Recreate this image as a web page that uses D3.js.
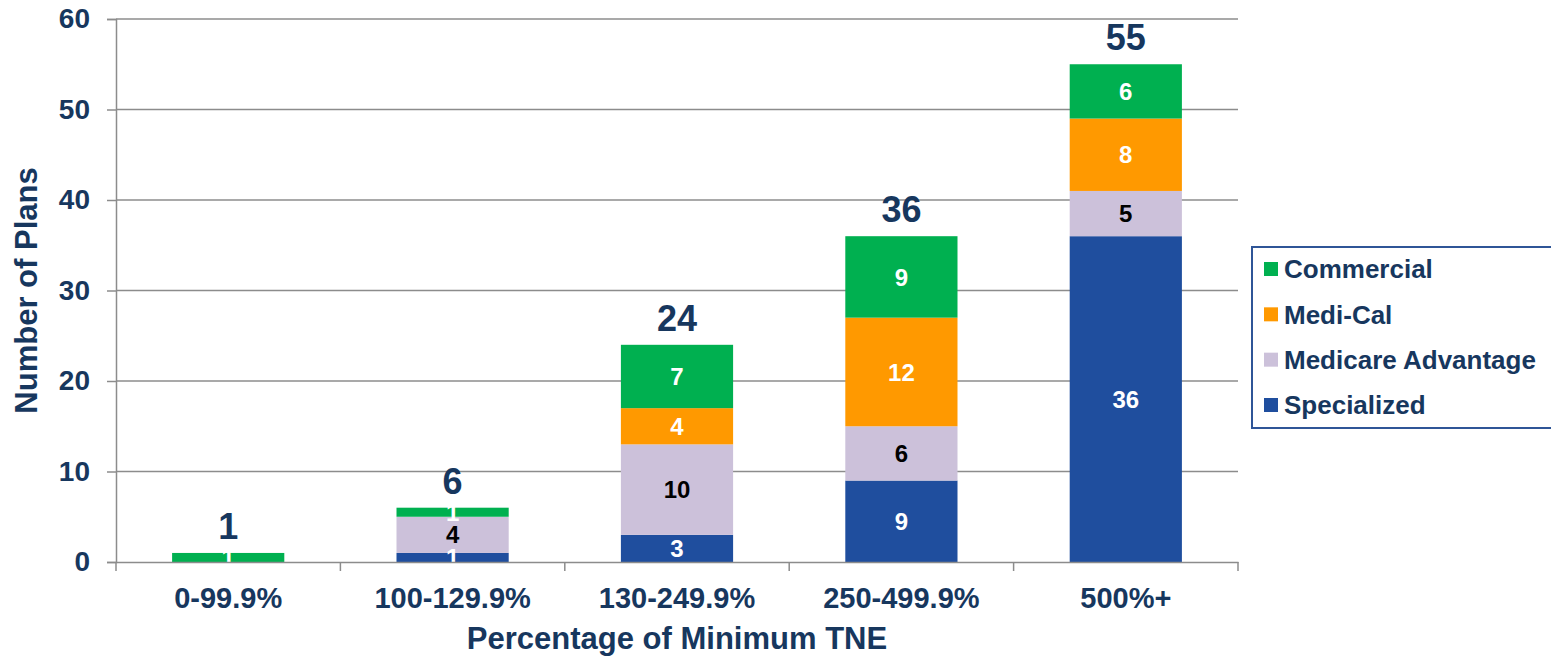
<!DOCTYPE html>
<html>
<head>
<meta charset="utf-8">
<script src="https://cdn.jsdelivr.net/npm/d3@7"></script>
<style>
  body { margin: 0; background: #fff; }
  text { font-family: "Liberation Sans", Arial, sans-serif; font-weight: bold; }
</style>
</head>
<body>
<svg id="chart" width="1551" height="657"></svg>
<script>
// data
const categories = ['0-99.9%', '100-129.9%', '130-249.9%', '250-499.9%', '500%+'];
const seriesNames = ['Specialized', 'Medicare Advantage', 'Medi-Cal', 'Commercial'];
const specialized = [0, 1, 3, 9, 36];
const medicareAdvantage = [0, 4, 10, 6, 5];
const mediCal = [0, 0, 4, 12, 8];
const commercial = [1, 1, 7, 9, 6];
const yTicks = [0, 10, 20, 30, 40, 50, 60];

const colors = {
  'Specialized': '#1F4E9E',
  'Medicare Advantage': '#CCC1DA',
  'Medi-Cal': '#FF9900',
  'Commercial': '#00B050'
};
const labelColors = {
  'Specialized': '#fff',
  'Medicare Advantage': '#000',
  'Medi-Cal': '#fff',
  'Commercial': '#fff'
};
const navy = '#17375E';
const font = '"Liberation Sans", Arial, sans-serif';

const rows = categories.map((c, i) => ({
  cat: c,
  'Specialized': specialized[i],
  'Medicare Advantage': medicareAdvantage[i],
  'Medi-Cal': mediCal[i],
  'Commercial': commercial[i]
}));

const margin = {left: 116, right: 313, top: 19, bottom: 95};
const W = 1551, H = 657;
const svg = d3.select('#chart');

const x = d3.scaleBand().domain(categories)
  .range([margin.left, W - margin.right]).paddingInner(0.5).paddingOuter(0.25);
const y = d3.scaleLinear().domain([0, 60]).range([H - margin.bottom, margin.top]);

// gridlines
svg.append('g').selectAll('line').data(yTicks.filter(d => d > 0)).join('line')
  .attr('x1', margin.left).attr('x2', W - margin.right)
  .attr('y1', d => y(d)).attr('y2', d => y(d))
  .attr('stroke', '#8c8c8c').attr('stroke-width', 1.5);

// stacked bars
const stack = d3.stack().keys(seriesNames)(rows);
const layers = svg.append('g').selectAll('g').data(stack).join('g')
  .attr('fill', d => colors[d.key]);
layers.selectAll('rect').data(d => d).join('rect')
  .attr('x', d => x(d.data.cat))
  .attr('width', x.bandwidth())
  .attr('y', d => y(d[1]))
  .attr('height', d => y(d[0]) - y(d[1]));

// segment labels (tiny segments keep their white label, as in the original)
stack.forEach(layer => {
  svg.append('g').selectAll('text').data(layer.filter(d => d[1] - d[0] > 0)).join('text')
    .attr('x', d => x(d.data.cat) + x.bandwidth() / 2)
    .attr('y', d => y((d[0] + d[1]) / 2))
    .attr('dy', '0.36em')
    .attr('text-anchor', 'middle')
    .attr('font-size', 24)
    .attr('fill', labelColors[layer.key])
    .text(d => d[1] - d[0]);
});

// totals
svg.append('g').selectAll('text').data(rows).join('text')
  .attr('x', d => x(d.cat) + x.bandwidth() / 2)
  .attr('y', d => y(d3.sum(seriesNames, k => d[k])) - 14)
  .attr('text-anchor', 'middle')
  .attr('font-size', 36)
  .attr('fill', navy)
  .text(d => d3.sum(seriesNames, k => d[k]));

// y axis
const yAxis = svg.append('g')
  .attr('transform', `translate(${margin.left},0)`)
  .call(d3.axisLeft(y).tickValues(yTicks).tickSize(9).tickPadding(17));
yAxis.select('.domain').attr('stroke', '#8c8c8c').attr('stroke-width', 1.5);
yAxis.selectAll('.tick line').attr('stroke', '#8c8c8c').attr('stroke-width', 1.5);
yAxis.selectAll('.tick text').attr('font-size', 28).attr('fill', navy)
  .style('font-family', font).style('font-weight', 'bold');

// x axis
const xAxis = svg.append('g')
  .attr('transform', `translate(0,${y(0)})`)
  .call(d3.axisBottom(x).tickSize(0).tickPadding(25));
xAxis.select('.domain').attr('stroke', '#8c8c8c').attr('stroke-width', 1.5);
xAxis.selectAll('.tick text').attr('font-size', 29).attr('fill', navy)
  .style('font-family', font).style('font-weight', 'bold');
// category boundary ticks
const bounds = d3.range(categories.length + 1).map(i => margin.left + i * (W - margin.right - margin.left) / categories.length);
svg.append('g').selectAll('line').data(bounds).join('line')
  .attr('x1', d => d).attr('x2', d => d)
  .attr('y1', y(0)).attr('y2', y(0) + 9)
  .attr('stroke', '#8c8c8c').attr('stroke-width', 1.5);

// axis titles
svg.append('text')
  .attr('transform', `translate(37,${(y(0) + y(60)) / 2}) rotate(-90)`)
  .attr('text-anchor', 'middle')
  .attr('font-size', 31).attr('fill', navy)
  .text('Number of Plans');
svg.append('text')
  .attr('x', (margin.left + W - margin.right) / 2)
  .attr('y', 649)
  .attr('text-anchor', 'middle')
  .attr('font-size', 31).attr('fill', navy)
  .text('Percentage of Minimum TNE');

// legend
const legend = svg.append('g');
legend.append('rect')
  .attr('x', 1252).attr('y', 247).attr('width', 310).attr('height', 181)
  .attr('fill', '#fff').attr('stroke', '#2F5597').attr('stroke-width', 2);
const legendItems = seriesNames.slice().reverse();
const ly = d3.scalePoint().domain(legendItems).range([269, 405]);
legend.selectAll('rect.sw').data(legendItems).join('rect')
  .attr('class', 'sw')
  .attr('x', 1264).attr('y', d => ly(d) - 7)
  .attr('width', 14).attr('height', 14)
  .attr('fill', d => colors[d]);
legend.selectAll('text').data(legendItems).join('text')
  .attr('x', 1284).attr('y', d => ly(d))
  .attr('dy', '0.36em')
  .attr('font-size', 26).attr('fill', navy)
  .text(d => d);
</script>
</body>
</html>
